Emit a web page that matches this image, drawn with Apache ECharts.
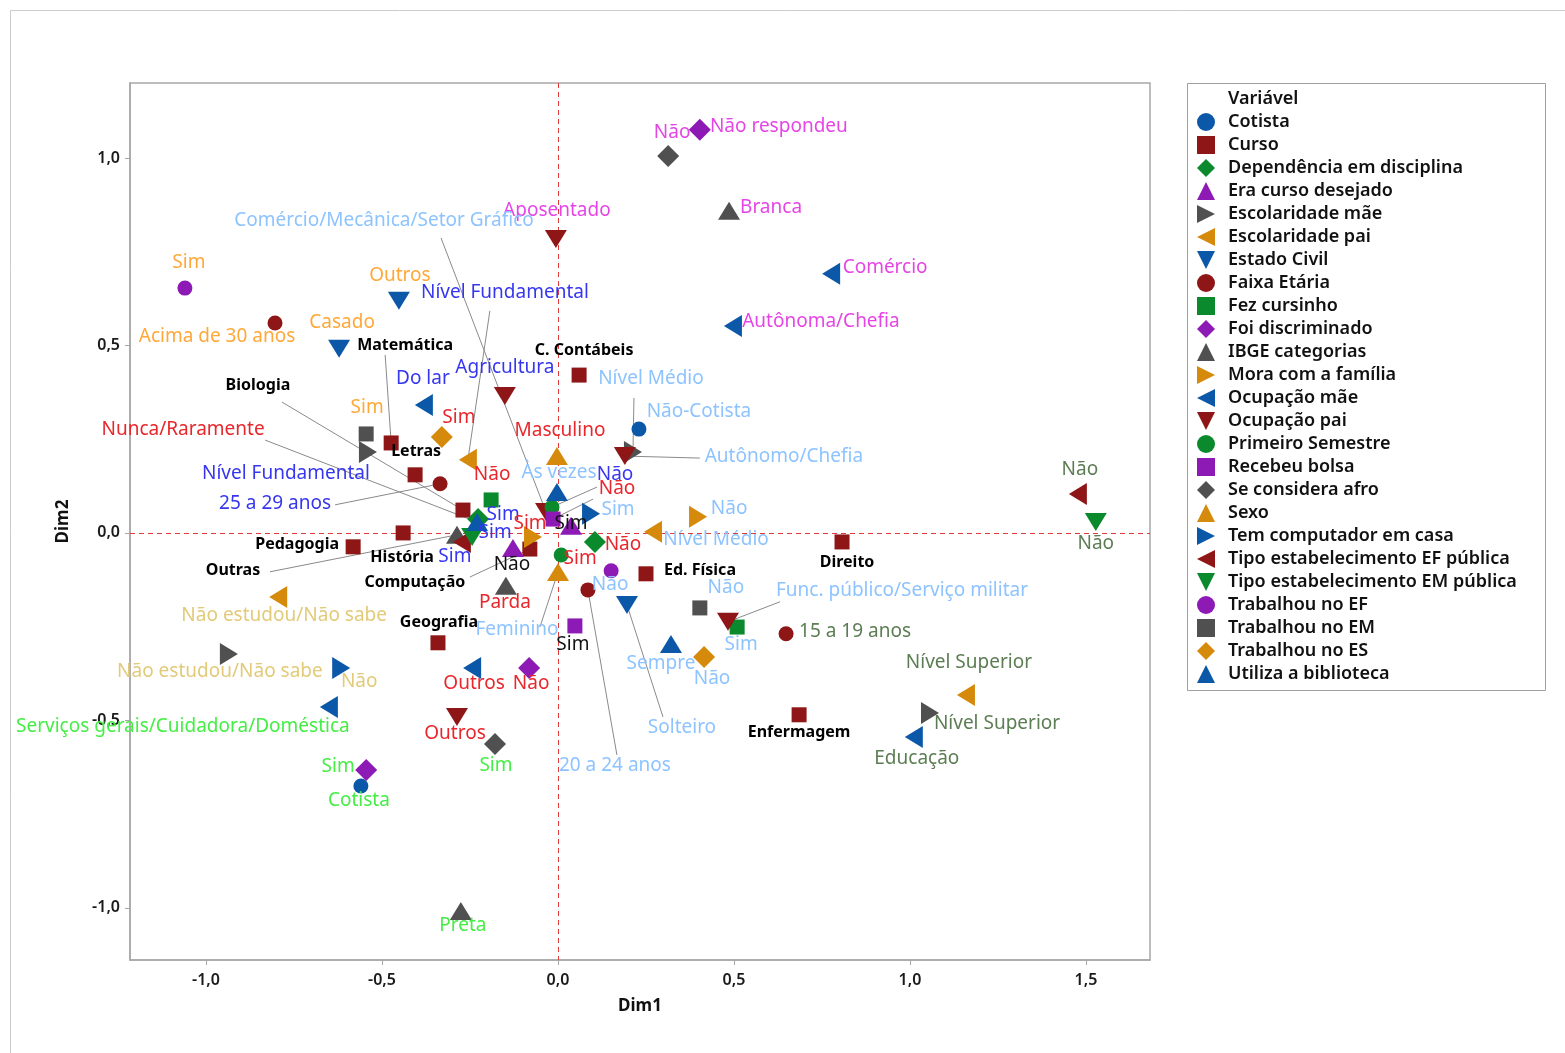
<!DOCTYPE html>
<html>
<head>
<meta charset="utf-8">
<title>Dim1 x Dim2</title>
<script src="https://cdn.jsdelivr.net/npm/echarts@6/dist/echarts.min.js"></script>
<style>
  html, body { margin: 0; padding: 0; background: #fff; }
  #chart { width: 1565px; height: 1053px; }
</style>
</head>
<body>
<div id="chart"></div>
<script>
// variáveis, na ordem da legenda
var variaveis = [
  'Cotista', 'Curso', 'Dependência em disciplina', 'Era curso desejado',
  'Escolaridade mãe', 'Escolaridade pai', 'Estado Civil', 'Faixa Etária',
  'Fez cursinho', 'Foi discriminado', 'IBGE categorias', 'Mora com a família',
  'Ocupação mãe', 'Ocupação pai', 'Primeiro Semestre', 'Recebeu bolsa',
  'Se considera afro', 'Sexo', 'Tem computador em casa',
  'Tipo estabelecimento EF pública', 'Tipo estabelecimento EM pública',
  'Trabalhou no EF', 'Trabalhou no EM', 'Trabalhou no ES', 'Utiliza a biblioteca'
];

// coordenadas das categorias: [categoria, Dim1, Dim2]
var cotista = [['Não-Cotista', 0.230, 0.277], ['Cotista', -0.560, -0.675]];
var curso = [
  ['C. Contábeis', 0.060, 0.421], ['Matemática', -0.474, 0.240],
  ['Biologia', -0.270, 0.061], ['Letras', -0.406, 0.155],
  ['Pedagogia', -0.582, -0.037], ['História', -0.440, 0.000],
  ['Computação', -0.080, -0.043], ['Geografia', -0.341, -0.293],
  ['Ed. Física', 0.250, -0.109], ['Direito', 0.807, -0.024],
  ['Enfermagem', 0.685, -0.485]
];
var dependencia = [['Sim', -0.227, 0.037], ['Não', 0.105, -0.024]];
var eraCurso = [['Sim', 0.037, 0.019], ['Não', -0.128, -0.040]];
var escMae = [
  ['Nível Fundamental', -0.540, 0.216], ['Nível Médio', 0.213, 0.216],
  ['Não estudou/Não sabe', -0.935, -0.323], ['Nível Superior', 1.057, -0.480]
];
var escPai = [
  ['Nível Fundamental', -0.256, 0.195], ['Nível Médio', 0.270, 0.003],
  ['Não estudou/Não sabe', -0.795, -0.171], ['Nível Superior', 1.159, -0.432]
];
var estadoCivil = [['Casado', -0.622, 0.491], ['Outros', -0.452, 0.619], ['Solteiro', 0.196, -0.192]];
var faixaEtaria = [
  ['15 a 19 anos', 0.648, -0.269], ['20 a 24 anos', 0.085, -0.152],
  ['25 a 29 anos', -0.335, 0.131], ['Acima de 30 anos', -0.804, 0.560]
];
var cursinho = [['Sim', 0.509, -0.251], ['Não', -0.190, 0.088]];
var discriminado = [['Sim', -0.545, -0.632], ['Não', -0.082, -0.360], ['Não respondeu', 0.403, 1.075]];
var ibge = [['Branca', 0.486, 0.859], ['Parda', -0.148, -0.141], ['Preta', -0.276, -1.008], ['Outras', -0.287, -0.005]];
var moraFamilia = [['Sim', -0.071, -0.011], ['Não', 0.398, 0.043]];
var ocupMae = [
  ['Comércio', 0.776, 0.691], ['Autônoma/Chefia', 0.497, 0.552],
  ['Do lar', -0.381, 0.341], ['Outros', -0.244, -0.360],
  ['Serviços gerais/Cuidadora/Doméstica', -0.651, -0.464], ['Educação', 1.011, -0.544]
];
var ocupPai = [
  ['Aposentado', -0.006, 0.784], ['Agricultura', -0.151, 0.365],
  ['Comércio/Mecânica/Setor Gráfico', -0.034, 0.056], ['Autônomo/Chefia', 0.190, 0.205],
  ['Func. público/Serviço militar', 0.483, -0.237], ['Outros', -0.287, -0.491]
];
var primeiroSem = [['Sim', 0.009, -0.059], ['Não', -0.017, 0.069]];
var bolsa = [['Sim', 0.048, -0.248], ['Não', -0.014, 0.037]];
var afro = [['Sim', -0.179, -0.563], ['Não', 0.313, 1.005]];
var sexo = [['Masculino', -0.003, 0.205], ['Feminino', 0.000, -0.104]];
var computador = [['Sim', 0.094, 0.051], ['Não', -0.616, -0.360]];
var efPublica = [['Sim', -0.273, -0.024], ['Não', 1.477, 0.104]];
var emPublica = [['Sim', -0.244, -0.011], ['Não', 1.528, 0.029]];
var trabEF = [['Sim', -1.060, 0.653], ['Não', 0.151, -0.101]];
var trabEM = [['Sim', -0.545, 0.264], ['Não', 0.403, -0.200]];
var trabES = [['Sim', -0.330, 0.256], ['Não', 0.415, -0.331]];
var biblioteca = [['Nunca/Raramente', -0.230, 0.029], ['Às vezes', -0.003, 0.109], ['Sempre', 0.321, -0.296]];

var dados = [
  cotista, curso, dependencia, eraCurso, escMae, escPai, estadoCivil, faixaEtaria,
  cursinho, discriminado, ibge, moraFamilia, ocupMae, ocupPai, primeiroSem, bolsa,
  afro, sexo, computador, efPublica, emPublica, trabEF, trabEM, trabES, biblioteca
];

// rótulos, em px a partir do ponto: [dx, dy, estilo, início da linha guia]
var rotulos = [
  [[60, -17, 'lb'], [-2, 15, 'gr']],
  [[5, -25, 'cb'], [14, -98, 'cb', [-6, -88]], [-205, -125, 'cb', [-181, -108]], [1, -23, 'cb'], [-56, -2, 'cb'],
   [-1, 25, 'cb'], [-115, 33, 'cb', [-60, 28]], [1, -20, 'cb'], [54, -3, 'cb'], [5, 21, 'cb'], [0, 18, 'cb']],
  [[25, -4, 'bl'], [28, 3, 'rd']],
  [[0, -2, 'bk'], [-1, 17, 'bk']],
  [[-82, 22, 'bl'], [18, -73, 'lb', [1, -54]], [-9, 18, 'kh'], [67, 11, 'ol']],
  [[37, -167, 'bl', [22, -149]], [63, 8, 'lb'], [6, 19, 'kh'], [3, -32, 'ol']],
  [[3, -26, 'or'], [1, -25, 'or'], [55, 123, 'lb', [36, 112]]],
  [[69, -2, 'ol'], [27, 176, 'lb', [29, 165]], [-165, 20, 'bl', [-105, 21]], [-58, 14, 'or']],
  [[4, 18, 'lb'], [1, -25, 'rd']],
  [[-28, -3, 'gr'], [2, 16, 'rd'], [79, -3, 'mg']],
  [[42, -3, 'mg'], [-1, 17, 'rd'], [2, 15, 'gr'], [-224, 36, 'cb', [-187, 37]]],
  [[-3, -13, 'rd'], [31, -8, 'lb']],
  [[54, -6, 'mg'], [88, -4, 'mg'], [-1, -26, 'bl'], [2, 16, 'rd'], [-146, 20, 'gr'], [3, 22, 'ol']],
  [[1, -28, 'mg'], [0, -28, 'bl'], [-162, -291, 'lb', [-105, -274]], [159, 1, 'lb', [75, 2]],
   [174, -31, 'lb', [52, -20]], [-2, 17, 'rd']],
  [[19, 4, 'rd'], [63, -32, 'bl', [45, -20]]],
  [[-2, 19, 'bk'], [64, -30, 'rd', [40, -20]]],
  [[1, 22, 'gr'], [4, -24, 'mg']],
  [[3, -25, 'rd'], [-41, 58, 'lb', [-18, 55]]],
  [[27, -4, 'lb'], [18, 14, 'kh']],
  [[-7, 15, 'bl'], [2, -24, 'ol']],
  [[23, -4, 'bl'], [0, 22, 'ol']],
  [[4, -26, 'or'], [-1, 14, 'lb']],
  [[1, -26, 'or'], [26, -20, 'lb']],
  [[17, -19, 'rd'], [8, 22, 'lb']],
  [[-294, -92, 'rd', [-212, -82]], [2, -19, 'lb'], [-10, 20, 'lb']]
];

var corRotulo = {
  or: '#FFA838', mg: '#E645E6', lb: '#8DC3FF', rd: '#E8262B', bl: '#3636F0',
  gr: '#45EE45', kh: '#E2CA79', ol: '#5C7D53', bk: '#111111', cb: '#000000'
};

// símbolos e cores no ciclo padrão do Minitab
var formas = [
  { symbol: 'circle', size: 15 },
  { symbol: 'path://M0,0L10,0L10,10L0,10Z', size: 15 },
  { symbol: 'path://M5,0L10,5L5,10L0,5Z', size: 22 },
  { symbol: 'path://M5,0L10,10L0,10Z', size: [22, 18] },
  { symbol: 'path://M0,0L10,5L0,10Z', size: [18, 22] },
  { symbol: 'path://M10,0L10,10L0,5Z', size: [18, 22] },
  { symbol: 'path://M0,0L10,0L5,10Z', size: [22, 18] }
];
var cores = ['#0B57A8', '#8E1616', '#0A8A2C', '#8D1AB5', '#505050', '#D58A0B'];

var fonte = 'Noto Sans';

function estiloRotulo(k) {
  if (k === 'cb') return { color: corRotulo.cb, fontWeight: 'bold', fontSize: 16 };
  return { color: corRotulo[k], fontWeight: 'normal', fontSize: 19 };
}

var series = variaveis.map(function (nome, i) {
  var forma = formas[i % 7];
  return {
    name: nome,
    type: 'scatter',
    z: 3,
    symbol: forma.symbol,
    symbolSize: forma.size,
    itemStyle: { color: cores[i % 6], opacity: 1 },
    label: {
      show: true, position: 'inside', formatter: '{b}',
      fontFamily: fonte, textBorderWidth: 0, textBorderColor: 'transparent'
    },
    labelLayout: function (p) {
      var r = rotulos[i][p.dataIndex];
      return { dx: r[0], dy: r[1] };
    },
    emphasis: { disabled: true },
    data: dados[i].map(function (d, j) {
      return { name: d[0], value: [d[1], d[2]], label: estiloRotulo(rotulos[i][j][2]) };
    })
  };
});

// linhas guia: ponto da categoria + deslocamento do início da linha
var guias = [];
dados.forEach(function (lista, i) {
  lista.forEach(function (d, j) {
    var g = rotulos[i][j][3];
    if (g) guias.push([d[1], d[2], g[0], g[1]]);
  });
});

series.push({
  name: 'guias', type: 'custom', z: 2, silent: true,
  data: guias,
  renderItem: function (params, api) {
    var p = api.coord([api.value(0), api.value(1)]);
    return {
      type: 'line',
      shape: { x1: p[0] + api.value(2), y1: p[1] + api.value(3), x2: p[0], y2: p[1] },
      style: { stroke: '#8a8a8a', lineWidth: 1 }
    };
  }
});

// linhas de referência em Dim1 = 0 e Dim2 = 0
var referencias = [[0, 'x'], [0, 'y']];

series.push({
  name: 'ref', type: 'custom', z: 1, silent: true,
  data: referencias.map(function (r, k) { return [r[0], k]; }),
  renderItem: function (params, api) {
    var cs = params.coordSys;
    var v = api.value(0);
    var eixo = referencias[params.dataIndex][1];
    var shape;
    if (eixo === 'x') {
      var x = Math.round(api.coord([v, 0])[0]) + 0.5;
      shape = { x1: x, y1: cs.y, x2: x, y2: cs.y + cs.height };
    } else {
      var y = Math.round(api.coord([0, v])[1]) + 0.5;
      shape = { x1: cs.x, y1: y, x2: cs.x + cs.width, y2: y };
    }
    return {
      type: 'line', shape: shape,
      style: { stroke: '#E23A3A', lineWidth: 1, lineDash: [5, 4] }
    };
  }
});

var ticks = [-1, -0.5, 0, 0.5, 1, 1.5];
var ticksY = [-1, -0.5, 0, 0.5, 1];

function virgula(v) { return v.toFixed(1).replace('.', ','); }

var chart = echarts.init(document.getElementById('chart'));
chart.setOption({
  animation: false,
  backgroundColor: '#fff',
  textStyle: { fontFamily: fonte },
  grid: {
    left: 130, top: 83, right: 415, bottom: 93,
    show: true, borderColor: '#A8A8A8', borderWidth: 1.5
  },
  xAxis: {
    type: 'value', min: -1.216, max: 1.682,
    name: 'Dim1', nameLocation: 'middle', nameGap: 38,
    nameTextStyle: { fontSize: 17, fontWeight: 'bold', color: '#111' },
    axisLine: { show: true, onZero: false, lineStyle: { color: '#A8A8A8', width: 1.5 } },
    axisTick: { show: true, length: 5, customValues: ticks, lineStyle: { color: '#A8A8A8' } },
    axisLabel: { customValues: ticks, formatter: virgula, margin: 12, fontSize: 16, fontWeight: 600, color: '#1a1a1a' },
    splitLine: { show: false }
  },
  yAxis: {
    type: 'value', min: -1.139, max: 1.2,
    name: 'Dim2', nameLocation: 'middle', nameGap: 58,
    nameTextStyle: { fontSize: 17, fontWeight: 'bold', color: '#111' },
    axisLine: { show: true, onZero: false, lineStyle: { color: '#A8A8A8', width: 1.5 } },
    axisTick: { show: true, length: 5, customValues: ticksY, lineStyle: { color: '#A8A8A8' } },
    axisLabel: { customValues: ticksY, formatter: virgula, margin: 10, fontSize: 16, fontWeight: 600, color: '#1a1a1a' },
    splitLine: { show: false }
  },
  legend: {
    data: variaveis,
    orient: 'vertical',
    left: 1197, top: 113,
    padding: 0, itemGap: 5,
    itemWidth: 34, itemHeight: 18,
    selectedMode: false,
    textStyle: { fontFamily: fonte, fontSize: 18, fontWeight: 600, color: '#111', lineHeight: 18 }
  },
  graphic: [
    { type: 'rect', silent: true, shape: { x: 10.5, y: 10.5, width: 1700, height: 1200 },
      style: { fill: 'none', stroke: '#CCCCCC', lineWidth: 1 } },
    { type: 'rect', silent: true, shape: { x: 1187.5, y: 83.5, width: 358, height: 607 },
      style: { fill: 'none', stroke: '#A0A0A0', lineWidth: 1 } },
    { type: 'text', silent: true, left: 1228, top: 90,
      style: { text: 'Variável', fontFamily: fonte, fontSize: 18, fontWeight: 600, fill: '#111' } }
  ],
  series: series
});
</script>
</body>
</html>
